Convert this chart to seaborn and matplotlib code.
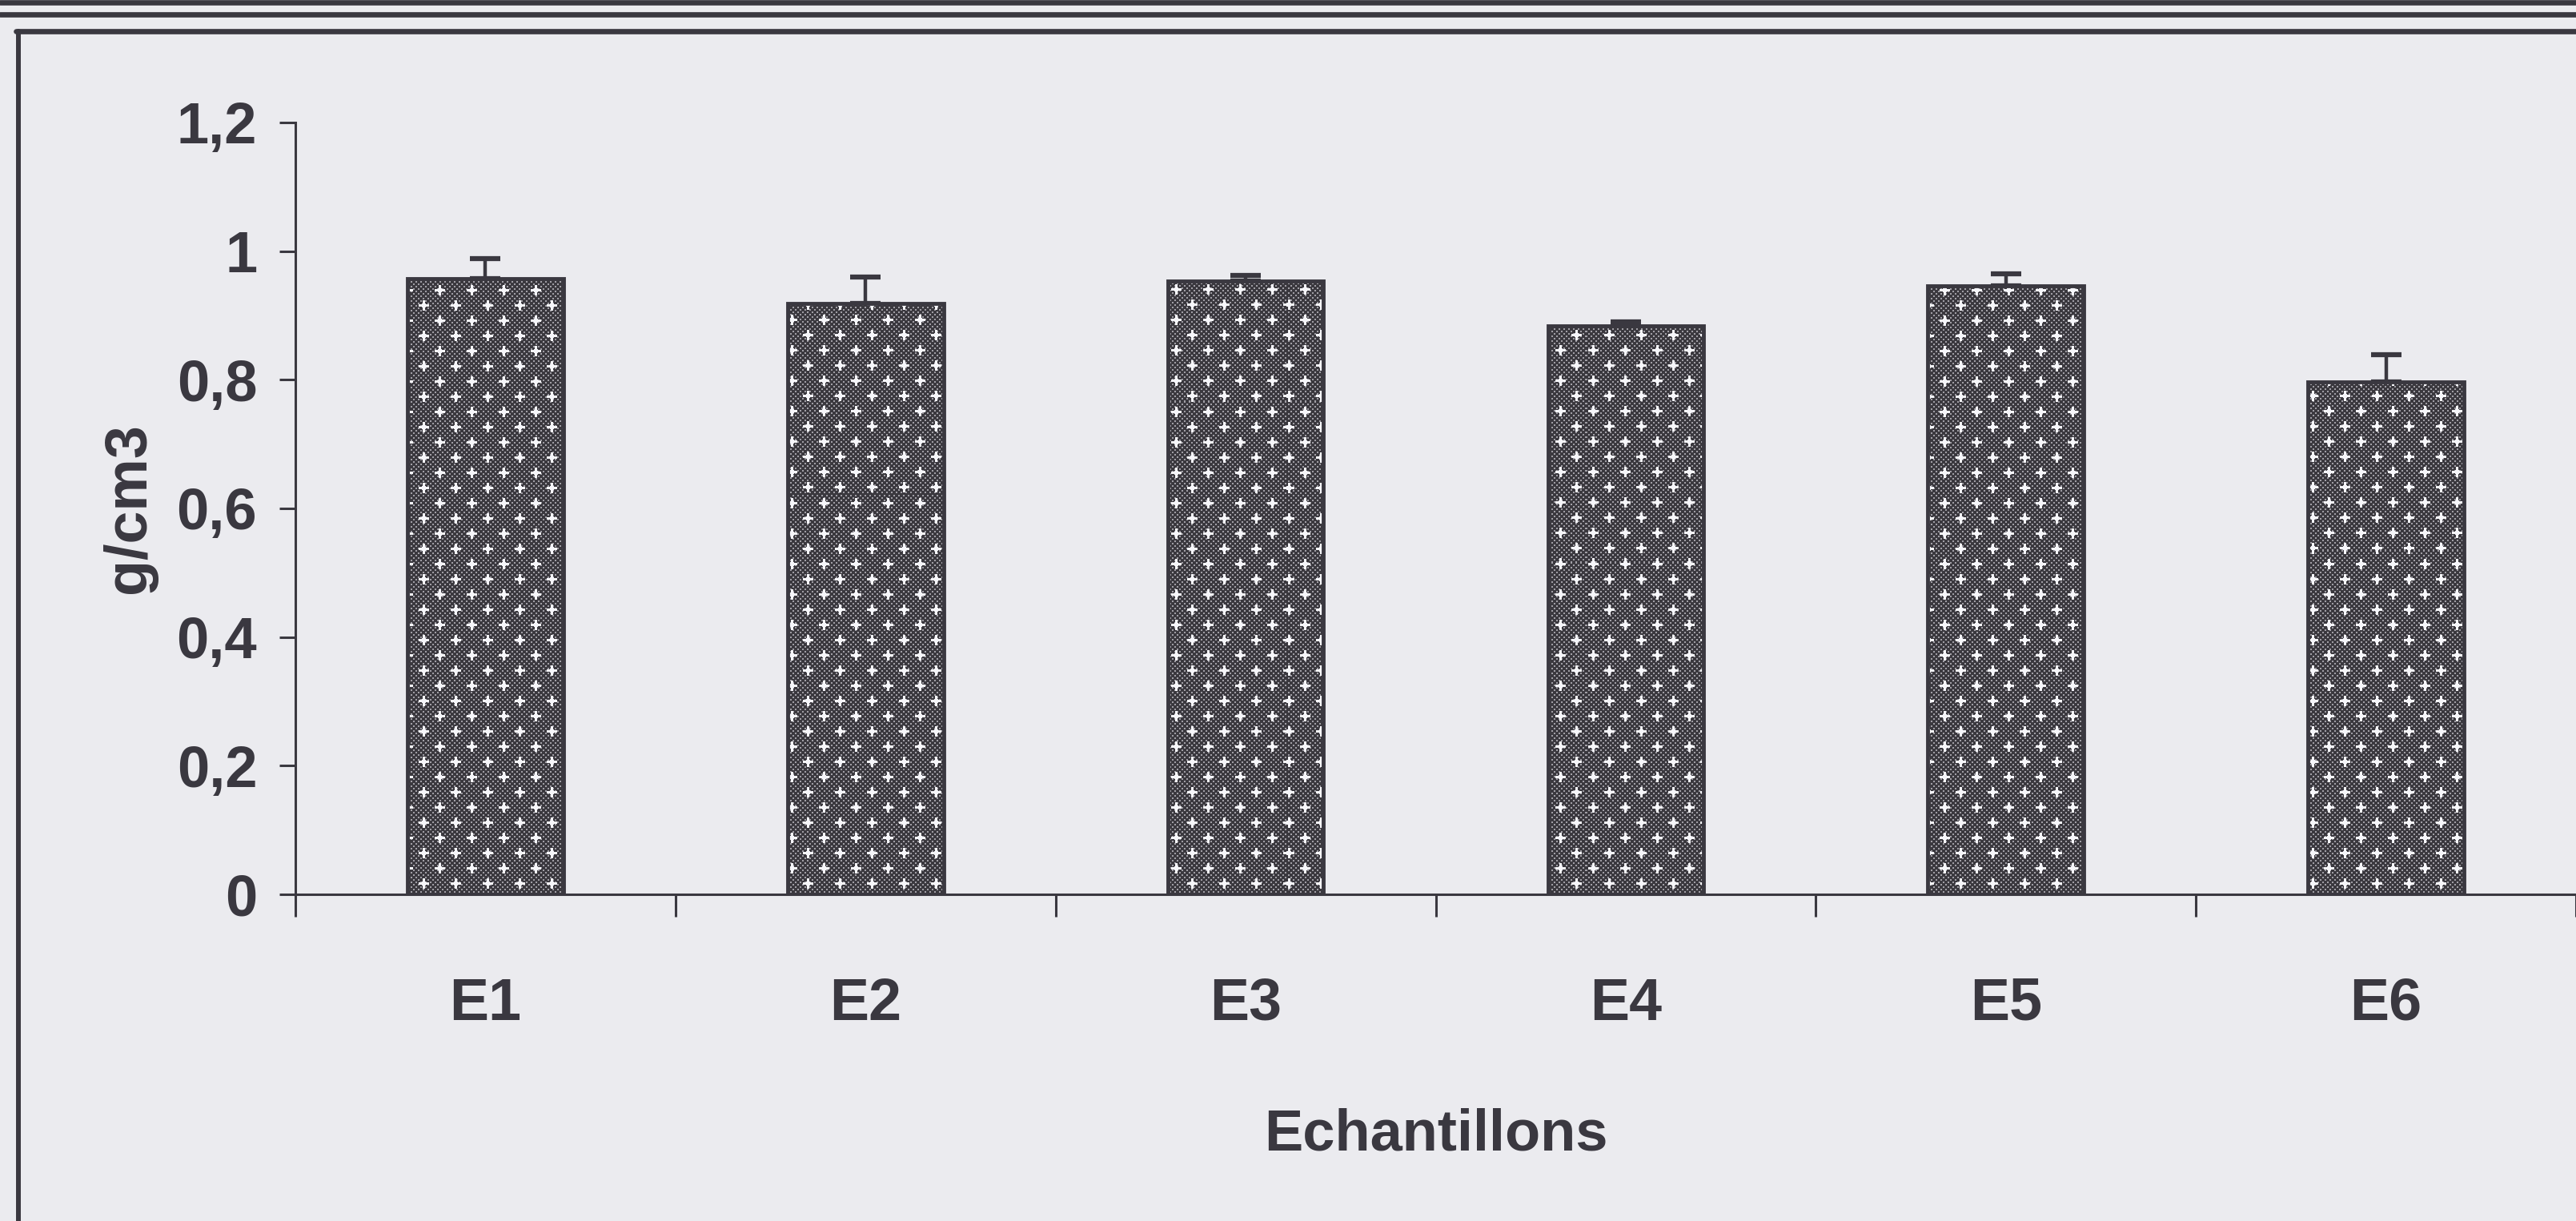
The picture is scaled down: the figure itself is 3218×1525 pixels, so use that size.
import numpy as np
import pandas as pd
import matplotlib
matplotlib.use("Agg")
import matplotlib.pyplot as plt
from matplotlib.lines import Line2D
import seaborn as sns

# Bulk density of the samples (g/cm3) with standard deviation
samples = ["E1", "E2", "E3", "E4", "E5", "E6"]
density = [0.957, 0.919, 0.954, 0.884, 0.946, 0.797]
density_err = [0.031, 0.041, 0.008, 0.006, 0.019, 0.042]
y_ticks = [0, 0.2, 0.4, 0.6, 0.8, 1.0, 1.2]
y_tick_labels = ["0", "0,2", "0,4", "0,6", "0,8", "1", "1,2"]

PAPER = "#ebebef"
INK = "#3a3840"
FS = 52

sns.set_style("ticks")
plt.rcParams["font.family"] = ["Liberation Sans", "DejaVu Sans"]
plt.rcParams["font.weight"] = "bold"

W_PX, H_PX, DPI = 3218, 1525, 100
fig = plt.figure(figsize=(W_PX / DPI, H_PX / DPI), dpi=DPI, facecolor=PAPER)
ax = fig.add_axes([369 / W_PX, 1 - 1117 / H_PX, 1 - 369 / W_PX, (1117 - 153) / H_PX])
ax.set_facecolor(PAPER)

df = pd.DataFrame({"sample": samples, "density": density})
sns.barplot(data=df, x="sample", y="density", color="#3e3c42", saturation=1,
            width=0.41, errorbar=None, ax=ax, edgecolor=INK, linewidth=3.5,
            zorder=2)

# one-sided (upper) error bars
x_pos = np.arange(len(samples))
ax.errorbar(x_pos, density, yerr=[np.zeros(len(samples)), density_err],
            fmt="none", ecolor=INK, elinewidth=3.2, capsize=14, capthick=4.5,
            zorder=1.5)

ax.set_xlim(-0.5, len(samples) - 0.5)
ax.set_ylim(0, 1.2)

for side in ("top", "right"):
    ax.spines[side].set_visible(False)
for side in ("left", "bottom"):
    ax.spines[side].set_linewidth(2.2)
    ax.spines[side].set_color(INK)

ax.set_yticks(y_ticks, y_tick_labels)
ax.tick_params(axis="y", length=14.4, width=2.2, pad=20, labelsize=FS,
               color=INK, labelcolor=INK)
ax.set_xticks(np.arange(-0.5, len(samples), 1.0), minor=True)
ax.tick_params(axis="x", which="major", length=0, pad=74, labelsize=FS + 1,
               labelcolor=INK)
ax.tick_params(axis="x", which="minor", length=20, width=2.2, color=INK,
               direction="out")

ax.set_xlabel("Echantillons", fontsize=FS, fontweight="bold", color=INK,
              labelpad=68)
ax.set_ylabel("g/cm3", fontsize=FS + 1, fontweight="bold", color=INK, labelpad=18)

# page frame: rules along the top and the box edge on the left
def hrule(ypx, x0=0, x1=W_PX, lw=4.8):
    fig.add_artist(Line2D([x0 / W_PX, x1 / W_PX], [1 - ypx / H_PX] * 2,
                          transform=fig.transFigure, color=INK, lw=lw))

hrule(3)
hrule(18)
hrule(39, x0=20)
fig.add_artist(Line2D([23 / W_PX, 23 / W_PX], [1 - 39 / H_PX, 0],
                      transform=fig.transFigure, color=INK, lw=4.3))

# dotted fill with white crosses, clipped to each bar
fig.canvas.draw()
bb = ax.get_window_extent()
tw, th = int(round(bb.width)), int(round(bb.height))
yy, xx = np.mgrid[0:th, 0:tw]
tex = np.empty((th, tw, 3))
tex[:] = np.array([58, 56, 62]) / 255
dots = (((xx % 6) < 2) & ((yy % 6) < 2)) | ((((xx + 3) % 6) < 2) & (((yy + 3) % 6) < 2))
tex[dots] = np.array([160, 158, 165]) / 255
row = np.round(yy / 19).astype(int)
dy = yy - row * 19
shift = 20 * (row % 2)
col = np.round((xx - shift) / 40).astype(int)
dx = xx - shift - col * 40
cross = ((np.abs(dx) <= 1) & (np.abs(dy) <= 6)) | ((np.abs(dy) <= 1) & (np.abs(dx) <= 6)) \
    | ((np.abs(dx) <= 2) & (np.abs(dy) <= 2))
tex[cross] = np.array([246, 246, 250]) / 255

xl, yl = ax.get_xlim(), ax.get_ylim()
for bar in list(ax.patches):
    z = bar.get_zorder()
    im = ax.imshow(tex, extent=(xl[0], xl[1], yl[0], yl[1]), origin="upper",
                   interpolation="nearest", aspect="auto", zorder=z + 0.1)
    im.set_clip_path(bar)
    bar.set_facecolor("none")
    bar.set_zorder(z + 0.2)
ax.set_xlim(xl)
ax.set_ylim(yl)

fig.savefig("out.png", dpi=DPI, facecolor=PAPER)
